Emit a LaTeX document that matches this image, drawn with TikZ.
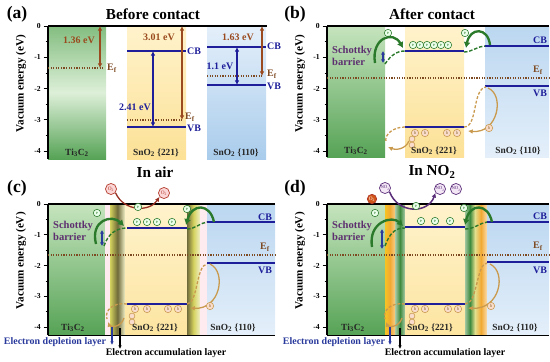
\documentclass[tikz,border=0pt]{standalone}
\usepackage{fontspec}
\setmainfont{Liberation Serif}
\usetikzlibrary{arrows.meta}
\definecolor{lvl}{HTML}{1E1E9A}\definecolor{efc}{HTML}{7E4A22}\definecolor{brn}{HTML}{9A4A1E}
\definecolor{egr}{HTML}{2B7A2B}\definecolor{hol}{HTML}{C99A4E}\definecolor{hfl}{HTML}{F9DCCB}
\definecolor{ored}{HTML}{B23A2A}\definecolor{opk}{HTML}{FBD6D6}\definecolor{npu}{HTML}{5B2E7A}
\definecolor{nlv}{HTML}{F3E6F5}\definecolor{sch}{HTML}{5E3070}\definecolor{dbl}{HTML}{2A3A9C}
\definecolor{tiT}{HTML}{C6E4BE}\definecolor{tiM}{HTML}{DDEFD8}\definecolor{tiB}{HTML}{56A356}
\definecolor{snT}{HTML}{FFF3CC}\definecolor{snB}{HTML}{FCE196}\definecolor{blT}{HTML}{E4EFFA}
\definecolor{blB}{HTML}{A9CCEC}\definecolor{olv}{HTML}{6F6A3A}\definecolor{ylg}{HTML}{D4D25E}
\definecolor{org}{HTML}{F2A933}\definecolor{dgr}{HTML}{3E8A3E}\definecolor{pnk}{HTML}{FDEBF0}
\newcommand{\Ef}{E\textsubscript{f}}
\newcommand{\TiC}{Ti\textsubscript{3}C\textsubscript{2}}
\newcommand{\SnOface}[1]{SnO\textsubscript{2} \{#1\}}
\newcommand{\VacAxis}[4]{%
\draw[line width=1pt](#1,#4)--(#1,#2);
\foreach \v/\t in {0/0,1/-1,2/-2,3/-3,4/-4}{\draw[line width=.8pt](#1-4.5,#2+#3*\v)--(#1,#2+#3*\v);
 \node(ax#1\v)[anchor=east,font=\bfseries\fontsize{6.5}{7}\selectfont,inner sep=0pt]at(#1-7,#2+#3*\v){\t};}
\foreach \v in {.5,1.5,2.5,3.5}{\draw[line width=.6pt](#1-2.5,#2+#3*\v)--(#1,#2+#3*\v);}
\node(vl#1)[rotate=90,font=\bfseries\fontsize{9.5}{10}\selectfont]at(#1-27,#2+1.85*#3){Vacuum energy (eV)};}
\tikzset{lev/.style={draw=lvl,line width=1.3pt},fermi/.style={draw=efc,line width=1pt,dash pattern=on 1pt off 1.2pt},
 brar/.style={draw=brn,line width=.9pt,arrows={Latex[length=4,width=4]-Latex[length=4,width=4]}},
 blar/.style={draw=lvl,line width=.9pt,arrows={Latex[length=4,width=4]-Latex[length=4,width=4]}},
 scar/.style={draw=dbl,line width=1pt,arrows={Latex[length=3,width=3.5]-Latex[length=3,width=3.5]}},
 gar/.style={draw=egr,line width=2pt,arrows={-Latex[length=5,width=6]}},
 gdash/.style={draw=egr,line width=1.2pt,dash pattern=on 3pt off 1.5pt},
 har/.style={draw=hol,line width=1.1pt,arrows={-Latex[length=4,width=4]}},
 hdash/.style={draw=hol,line width=1.1pt,dash pattern=on 2.5pt off 1.5pt},
 oar/.style={draw=ored!85!black,line width=1.1pt,arrows={-Latex[length=4,width=4]}},
 nar/.style={draw=npu,line width=1.3pt,arrows={-Latex[length=4,width=4]}},
 ecl/.style={circle,draw=egr,fill=green!8,line width=.5pt,inner sep=0pt,minimum size=6.3pt,text=egr,font=\fontsize{4}{4}\selectfont},
 hcl/.style={circle,draw=hol,fill=hfl,line width=.5pt,inner sep=0pt,minimum size=6.3pt,text=hol!70!black,font=\fontsize{4}{4}\selectfont},
 ocl/.style={circle,draw=ored,fill=opk,line width=.6pt,inner sep=0pt,minimum size=9.5pt,text=ored,font=\fontsize{4.5}{5}\selectfont},
 ncl/.style={circle,draw=npu,fill=nlv,line width=.6pt,inner sep=0pt,minimum size=9.5pt,text=npu,font=\fontsize{4}{4}\selectfont},
 lvt/.style={text=lvl},eft/.style={text=efc},brt/.style={text=brn},
 mat/.style={font=\bfseries\fontsize{8}{8}\selectfont,text=black!85},
 big/.style={font=\bfseries\fontsize{13}{13}\selectfont},pan/.style={font=\bfseries\fontsize{15}{15}\selectfont},
 sct/.style={text=sch,align=left,anchor=west,font=\bfseries\fontsize{9}{10.5}\selectfont}}
\begin{document}
\begin{tikzpicture}[x=0.03cm,y=-0.03cm,font=\bfseries\fontsize{8.5}{9}\selectfont]
\useasboundingbox(0,0)rectangle(550,362);
% (a) before contact
\shade[top color=tiB!60!tiT,bottom color=tiB,middle color=tiM](48,26)rectangle(106,159);
\shade[top color=snT,bottom color=snB](127,26)rectangle(186,159);
\shade[top color=blT,bottom color=blB](207,26)rectangle(266,159);
\VacAxis{48}{26}{31.25}{159}\draw[line width=1.2pt](48,26)--(267,26);
\draw[fermi](48,68)--(104,68);\draw[fermi](127,120)--(183,120);\draw[fermi](207,76)--(262,76);
\draw[lev](127,51)--(186,51);\draw[lev](127,127)--(186,127);\draw[lev](207,47)--(266,47);\draw[lev](207,85)--(266,85);
\draw[brar](100,26)--(100,68);\draw[brar](182,26)--(182,120);\draw[brar](262,26)--(262,76);
\draw[blar](153,51)--(153,127);\draw[blar](237,47)--(237,85);
\node(pa)[pan]at(17,14){(a)};\node(ta)[big]at(153,14){Before contact};
\node(a1)[brt]at(79,40){1.36 eV};\node(a2)[brt]at(159,37){3.01 eV};\node(a3)[brt]at(238,37){1.63 eV};
\node(a4)[lvt]at(135,107){2.41 eV};\node(a5)[lvt]at(220,66){1.1 eV};
\node(aF1)[eft]at(112,68){\Ef};\node(aF2)[eft]at(190,117){\Ef};\node(aF3)[eft]at(272,74){\Ef};
\node(aC1)[lvt]at(194,51){CB};\node(aV1)[lvt]at(194,128){VB};\node(aC2)[lvt]at(274,46){CB};\node(aV2)[lvt]at(274,86){VB};
\node(aT)[mat]at(77,153){\TiC};\node(aS1)[mat]at(156,153){\SnOface{221}};\node(aS2)[mat]at(236,153){\SnOface{110}};
\node(air)[big]at(155,172){In air};
% (b) after contact
\shade[top color=tiT,bottom color=tiB](327,26)rectangle(385,157);
\shade[top color=snT,bottom color=snB](405,26)rectangle(464,157);
\shade[top color=blB!70!blT,bottom color=blT](485,26)rectangle(549,157);
\VacAxis{327}{26}{31.25}{157}\draw[line width=1.2pt](327,26)--(549,26);
\draw[fermi](327,78)--(549,78);
\draw[lev](485,46)--(549,46);\draw[lev](485,86)--(549,86);\draw[lev](405,51)--(464,51);\draw[lev](405,127)--(464,127);
\node(pb)[pan]at(295,14){(b)};\node(tb)[big]at(432,14){After contact};
\node(bC)[lvt]at(540,40){CB};\node(bF)[eft]at(538,70){\Ef};\node(bV)[lvt]at(540,93){VB};
\node(bsb)[sct]at(328,56){Schottky\\barrier};\draw[scar](383,51)--(383,63);
\node(be0)[ecl]at(388,33){e};\node(be7)[ecl]at(465,33){e};
\node(be1)[ecl]at(413,45){e};\node(be2)[ecl]at(420,45){e};\node(be3)[ecl]at(427,45){e};
\node(be4)[ecl]at(434,45){e};\node(be5)[ecl]at(441,45){e};\node(be6)[ecl]at(448,45){e};
\draw[gar](375,63)..controls(371,38)and(393,30)..(403,48);\draw[gdash](385,64)..controls(391,55)and(397,51)..(405,51);
\draw[gar](490,45)..controls(488,27)and(470,27)..(466,48);\draw[gdash](464,52)..controls(472,52)and(478,46)..(485,46);
\draw[hdash](405,127)..controls(394,127)and(384,134)..(386,142);\draw[har](409,141)..controls(405,150)and(395,150)..(388,147);
\draw[hdash](464,127)..controls(478,127)and(472,89)..(486,87);\draw[har](488,88)..controls(505,95)and(498,134)..(468,131);
\node(bh1)[hcl]at(415,133){h};\node(bh2)[hcl]at(425,133){h};\node(bh3)[hcl]at(447,133){h};\node(bh4)[hcl]at(457,133){h};
\node(bh5)[hcl,minimum size=5pt]at(412,139){};\node(bh6)[hcl,minimum size=5pt]at(412,145){};\node(bh7)[hcl]at(489,128){h};
\node(bT)[mat]at(356,151){\TiC};\node(bS1)[mat]at(434,151){\SnOface{221}};\node(bS2)[mat]at(518,151){\SnOface{110}};
\node(no)[big]at(432,172){In NO\textsubscript{2}};
% (c) in air
\shade[top color=tiT,bottom color=tiB](48,204)rectangle(105,335);\fill[pnk](105,204)rectangle(110,335);
\shade[left color=ylg,right color=ylg!35!white,middle color=olv](110,204)rectangle(125,335);
\shade[top color=snT,bottom color=snB!80!snT](125,204)rectangle(187,335);
\shade[left color=olv,right color=ylg!35!white,middle color=ylg](187,204)rectangle(200,335);
\fill[pnk](200,204)rectangle(207,335);\shade[top color=blB!70!blT,bottom color=blT](207,204)rectangle(275,335);
\VacAxis{48}{204}{30.75}{335}\draw[line width=1.2pt](48,204)--(275,204);\draw[line width=.8pt](48,335)--(275,335);
\draw[fermi](48,255)--(275,255);
\draw[lev](207,222)--(275,222);\draw[lev](207,263)--(275,263);\draw[lev](127,228)--(187,228);\draw[lev](127,304)--(187,304);
\node(pc)[pan]at(17,188){(c)};
\node(cC)[lvt]at(265,217){CB};\node(cF)[eft]at(265,247){\Ef};\node(cV)[lvt]at(265,270){VB};
\node(csb)[sct]at(49,231){Schottky\\barrier};\draw[scar](102,230)--(102,246);
\node(o1)[ocl]at(111,189){O\textsubscript{2}};\node(o2)[ocl]at(164,193){O\textsubscript{2}};
\draw[oar](o1.-40)..controls(124,212)and(150,212)..(o2.-140);\node(ce0)[ecl]at(138,207){e};
\node(ce5)[ecl]at(97,213){e};\node(ce6)[ecl]at(187,209){e};
\node(ce1)[ecl]at(137,222){e};\node(ce2)[ecl]at(147,222){e};\node(ce3)[ecl]at(157,222){e};\node(ce4)[ecl]at(172,222){e};
\draw[gar](96,244)..controls(90,220)and(112,214)..(124,226);\draw[gdash](104,246)..controls(108,234)and(116,228)..(127,228);
\draw[gar](214,222)..controls(210,203)and(192,203)..(186,225);\draw[gdash](187,229)..controls(195,229)and(200,223)..(207,222);
\draw[hdash](127,304)..controls(114,302)and(104,310)..(107,319);\draw[har](124,318)..controls(121,328)and(110,327)..(108,322);
\draw[hdash](187,304)..controls(198,304)and(196,265)..(207,264);\draw[har](210,264)..controls(227,272)and(220,310)..(190,308);
\node(ch1)[hcl]at(135,309){h};\node(ch2)[hcl]at(147,309){h};\node(ch3)[hcl]at(168,309){h};\node(ch4)[hcl]at(178,309){h};
\node(ch5)[hcl,minimum size=5pt]at(132,316){};\node(ch6)[hcl,minimum size=5pt]at(132,322){};\node(ch7)[hcl]at(210,306){h};
\node(cT)[mat]at(73,328){\TiC};\node(cS1)[mat]at(155,328){\SnOface{221}};\node(cS2)[mat]at(233,328){\SnOface{110}};
\node(cdl)[text=dbl]at(55,342){Electron depletion layer};\node(cal)at(166,353){Electron accumulation layer};
\draw[draw=dbl,line width=.9pt,arrows={-Latex[length=3,width=3]}](112,327)--(112,345);
\draw[line width=.9pt,arrows={-Latex[length=3,width=3]}](120,328)--(120,349);
% (d) in NO2
\shade[top color=tiT,bottom color=tiB](327,204)rectangle(385,335);
\shade[left color=org!70!yellow,right color=org!60!white,middle color=org](385,204)rectangle(395,335);
\shade[left color=dgr!45!white,right color=dgr!45!white,middle color=dgr](395,204)rectangle(405,335);
\shade[top color=snT,bottom color=snB!80!snT](405,204)rectangle(465,335);
\shade[left color=dgr!50!white,right color=ylg!70!white,middle color=dgr](465,204)rectangle(475,335);
\shade[left color=ylg!70!white,right color=org!40!white,middle color=org](475,204)rectangle(487,335);
\shade[top color=blB!70!blT,bottom color=blT](487,204)rectangle(549,335);
\VacAxis{327}{204}{30.75}{335}\draw[line width=1.2pt](327,204)--(549,204);\draw[line width=.8pt](327,335)--(549,335);
\draw[fermi](327,255)--(549,255);
\draw[lev](487,222)--(549,222);\draw[lev](487,262)--(549,262);\draw[lev](405,227)--(465,227);\draw[lev](405,304)--(465,304);
\node(pd)[pan]at(295,188){(d)};
\node(dC)[lvt]at(540,216){CB};\node(dF)[eft]at(538,246){\Ef};\node(dV)[lvt]at(540,270){VB};
\node(dsb)[sct]at(328,231){Schottky\\barrier};\draw[scar](382,229)--(382,249);
\node(n1)[ncl]at(385,188){NO\textsubscript{2}};\node(n2)[ncl]at(440,189){NO\textsubscript{2}};\node(n3)[ncl]at(456,189){NO\textsubscript{2}};
\node(om)[ocl,fill=ored!60!orange,text=white,minimum size=8pt]at(372,199){O\textsubscript{2}};
\draw[nar](n1.-40)..controls(398,214)and(428,214)..(n2.-140);\node(de0)[ecl]at(416,206){e};
\node(de5)[ecl]at(375,213){e};\node(de6)[ecl]at(464,208){e};
\node(de1)[ecl]at(421,221){e};\node(de2)[ecl]at(435,221){e};\node(de3)[ecl]at(450,221){e};
\draw[gar](372,247)..controls(368,222)and(392,215)..(403,226);\draw[gdash](385,246)..controls(390,232)and(396,228)..(405,228);
\draw[gar](492,222)..controls(488,203)and(470,203)..(465,225);\draw[gdash](465,229)..controls(474,229)and(480,223)..(487,222);
\draw[hdash](405,304)..controls(392,302)and(382,310)..(385,319);\draw[har](402,318)..controls(399,328)and(388,327)..(386,322);
\draw[hdash](465,304)..controls(478,304)and(476,264)..(487,263);\draw[har](490,264)..controls(507,272)and(500,310)..(468,308);
\node(dh1)[hcl]at(415,309){h};\node(dh2)[hcl]at(425,309){h};\node(dh3)[hcl]at(448,309){h};\node(dh4)[hcl]at(458,309){h};
\node(dh5)[hcl,minimum size=5pt]at(412,316){};\node(dh6)[hcl,minimum size=5pt]at(412,322){};\node(dh7)[hcl]at(491,306){h};
\node(dT)[mat]at(353,328){\TiC};\node(dS1)[mat]at(430,328){\SnOface{221}};\node(dS2)[mat]at(515,328){\SnOface{110}};
\node(ddl)[text=dbl]at(334,342){Electron depletion layer};\node(dal)at(445,353){Electron accumulation layer};
\draw[draw=dbl,line width=.9pt,arrows={-Latex[length=3,width=3]}](390,327)--(390,345);
\draw[line width=.9pt,arrows={-Latex[length=3,width=3]}](400,328)--(400,349);
\end{tikzpicture}
\end{document}
